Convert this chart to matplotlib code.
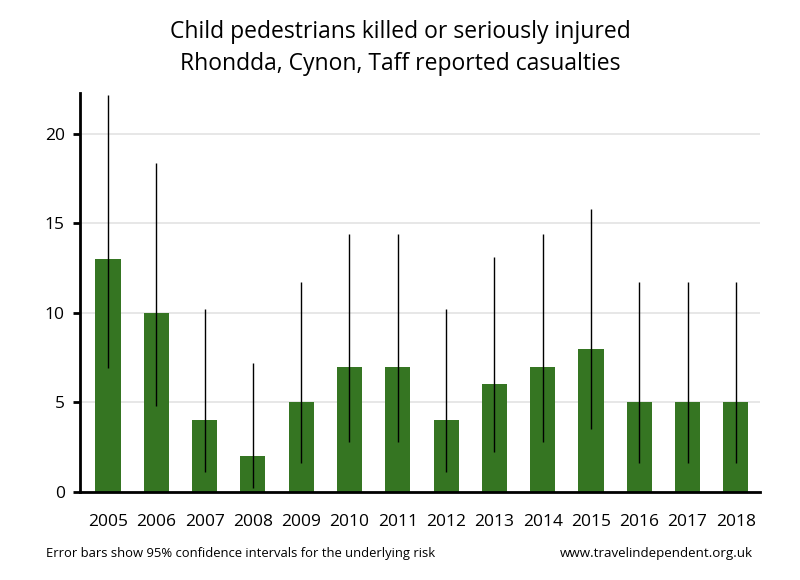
import matplotlib
matplotlib.use("Agg")
import matplotlib.pyplot as plt

plt.rcParams['font.family'] = ['Open Sans', 'DejaVu Sans']

# data
years = ['2005', '2006', '2007', '2008', '2009', '2010', '2011',
         '2012', '2013', '2014', '2015', '2016', '2017', '2018']
casualties = [13, 10, 4, 2, 5, 7, 7, 4, 6, 7, 8, 5, 5, 5]
ci_low = [6.9, 4.8, 1.1, 0.2, 1.6, 2.8, 2.8, 1.1, 2.2, 2.8, 3.5, 1.6, 1.6, 1.6]
ci_high = [22.2, 18.4, 10.2, 7.2, 11.7, 14.4, 14.4, 10.2, 13.1, 14.4, 15.8, 11.7, 11.7, 11.7]

fig = plt.figure(figsize=(8, 5.8), dpi=100)
ax = fig.add_axes([0.1, 0.152, 0.85, 0.688])

x = list(range(len(years)))
ax.bar(x, casualties, width=0.52, color='#357522', zorder=2)
ax.vlines(x, ci_low, ci_high, color='black', linewidth=1, zorder=3)

ax.set_xlim(-0.58, 13.5)
ax.set_ylim(0, 22.3)
ax.set_yticks([0, 5, 10, 15, 20])
ax.yaxis.grid(True, color='#e3e3e3', linewidth=1.2, zorder=0)
ax.set_axisbelow(True)

ax.set_xticks(x)
ax.set_xticklabels(years)
ax.tick_params(axis='x', length=0, pad=16, labelsize=12.5)
ax.tick_params(axis='y', length=5, width=2, labelsize=12.5, pad=6)

for side in ['top', 'right']:
    ax.spines[side].set_visible(False)
ax.spines['left'].set_linewidth(2)
ax.spines['bottom'].set_linewidth(2)

fig.text(0.5, 0.945, 'Child pedestrians killed or seriously injured',
         ha='center', va='center', fontsize=16.5)
fig.text(0.5, 0.89, 'Rhondda, Cynon, Taff reported casualties',
         ha='center', va='center', fontsize=16.5)
fig.text(0.058, 0.045, 'Error bars show 95% confidence intervals for the underlying risk',
         ha='left', va='center', fontsize=9.4)
fig.text(0.941, 0.045, 'www.travelindependent.org.uk',
         ha='right', va='center', fontsize=9.6)

fig.savefig('out.png', dpi=100)
